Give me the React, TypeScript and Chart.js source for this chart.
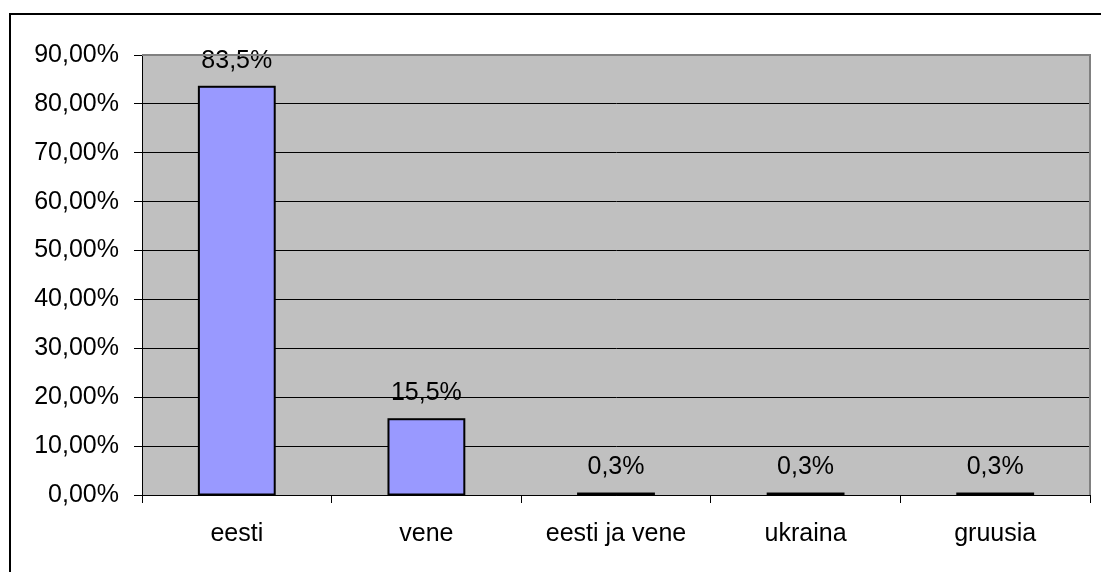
import React, { useEffect, useRef } from "react";
import { Chart, registerables } from "chart.js";

Chart.register(...registerables);

const categories = ["eesti", "vene", "eesti ja vene", "ukraina", "gruusia"];
const values = [83.5, 15.5, 0.3, 0.3, 0.3];
const yTicks = [0, 10, 20, 30, 40, 50, 60, 70, 80, 90];

const FONT = "'Liberation Sans', Arial, sans-serif";
const FS = 25;

const framePlugin = {
  id: "frame",
  beforeDraw(chart: any) {
    const { ctx, chartArea } = chart;
    ctx.save();
    ctx.fillStyle = "#ffffff";
    ctx.fillRect(0, 0, chart.width, chart.height);
    ctx.fillStyle = "#C0C0C0";
    ctx.fillRect(chartArea.left, chartArea.top, chartArea.right - chartArea.left, chartArea.bottom - chartArea.top);
    ctx.restore();
  },
  afterDraw(chart: any) {
    const { ctx, chartArea } = chart;
    ctx.save();
    ctx.strokeStyle = "#808080";
    ctx.lineWidth = 2;
    ctx.beginPath();
    ctx.moveTo(chartArea.left, chartArea.top);
    ctx.lineTo(chartArea.right, chartArea.top);
    ctx.lineTo(chartArea.right, chartArea.bottom);
    ctx.stroke();
    ctx.strokeStyle = "#000000";
    ctx.lineWidth = 2;
    ctx.strokeRect(10, 14, chart.width + 20, chart.height + 20);
    ctx.restore();
  },
};

const barOutlinePlugin = {
  id: "barOutline",
  afterDatasetsDraw(chart: any) {
    const { ctx } = chart;
    const meta = chart.getDatasetMeta(0);
    ctx.save();
    ctx.strokeStyle = "#000000";
    ctx.lineWidth = 2;
    ctx.font = `${FS}px ${FONT}`;
    ctx.fillStyle = "#000000";
    ctx.textAlign = "center";
    ctx.textBaseline = "middle";
    meta.data.forEach((bar: any, i: number) => {
      const { x, y, base, width } = bar.getProps(["x", "y", "base", "width"], true);
      ctx.strokeRect(x - width / 2, y, width, base - y);
      const label = values[i].toFixed(1).replace(".", ",") + "%";
      ctx.fillText(label, x, y - 26);
    });
    ctx.restore();
  },
};

export default function App() {
  const ref = useRef<HTMLCanvasElement>(null);
  useEffect(() => {
    if (!ref.current) return;
    const chart = new Chart(ref.current, {
      type: "bar",
      data: {
        labels: categories,
        datasets: [
          {
            data: values,
            backgroundColor: "#9999FF",
            borderWidth: 0,
            categoryPercentage: 1,
            barPercentage: 0.4,
          },
        ],
      },
      options: {
        responsive: false,
        animation: false,
        devicePixelRatio: 1,
        layout: { padding: { left: 0, top: 55, right: 11, bottom: 0 } },
        plugins: {
          legend: { display: false },
          tooltip: { enabled: false },
        },
        scales: {
          x: {
            grid: {
              offset: true,
              drawOnChartArea: false,
              drawTicks: true,
              tickLength: 8,
              color: "#000000",
            },
            border: { display: true, color: "#000000", width: 1 },
            ticks: {
              color: "#000000",
              font: { family: FONT, size: FS },
              padding: 16,
              maxRotation: 0,
              autoSkip: false,
            },
            afterFit(scale: any) {
              scale.height = 77;
            },
          },
          y: {
            min: 0,
            max: 90,
            afterBuildTicks(scale: any) {
              scale.ticks = yTicks.map((v) => ({ value: v }));
            },
            grid: {
              color: "#000000",
              lineWidth: 1,
              drawTicks: true,
              tickLength: 8,
            },
            border: { display: true, color: "#000000", width: 1 },
            ticks: {
              color: "#000000",
              font: { family: FONT, size: FS },
              padding: 15,
              callback: (v: any) => Number(v).toFixed(2).replace(".", ",") + "%",
            },
            afterFit(scale: any) {
              scale.width = 142;
            },
          },
        },
      },
      plugins: [framePlugin, barOutlinePlugin],
    });
    return () => chart.destroy();
  }, []);
  return (
    <div style={{ position: "absolute", left: 0, top: 0, width: 1101, height: 572 }}>
      <canvas ref={ref} width={1101} height={572} style={{ width: 1101, height: 572, display: "block" }} />
    </div>
  );
}
